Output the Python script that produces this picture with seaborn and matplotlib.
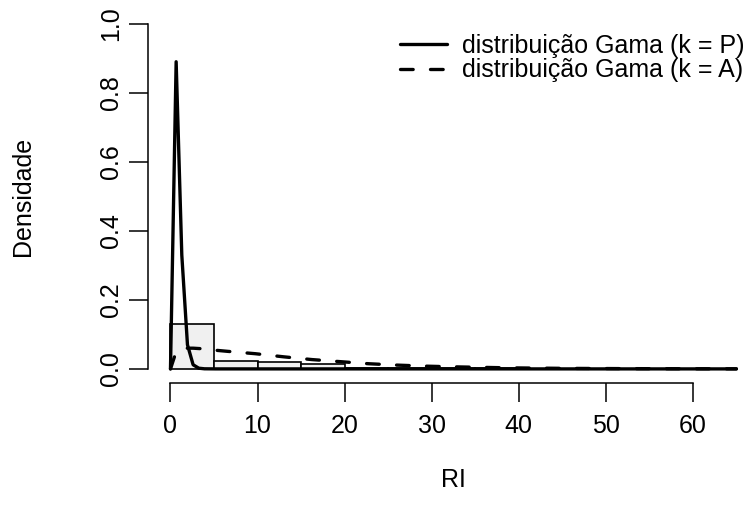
import numpy as np
import pandas as pd
import matplotlib
matplotlib.use("Agg")
import matplotlib.pyplot as plt
from matplotlib.lines import Line2D
import seaborn as sns

# ---- data ----
bin_edges = [0, 5, 10, 15, 20, 25, 30, 35, 40, 45, 50, 55, 60, 65]
bin_heights = [0.1295, 0.024, 0.021, 0.0136, 0.004, 0.003, 0.002, 0.0015,
               0.001, 0.001, 0.0008, 0.0005, 0.0003]

solid_x = [0, 0.65, 1.3, 1.95, 2.6, 3.25, 3.9, 5.2, 65]
solid_y = [0, 0.89, 0.33, 0.07, 0.012, 0.002, 0.0003, 0.0, 0.0]

dashed_x = [0, 0.65, 1.3, 1.95, 2.6, 3.9, 5.2, 6.5, 9.75, 13, 16.25, 19.5,
            22.75, 26, 29.25, 32.5, 39, 45.5, 52, 58.5, 65]
dashed_y = [0, 0.05, 0.058, 0.06, 0.06, 0.058, 0.054, 0.051, 0.044, 0.035,
            0.027, 0.021, 0.015, 0.011, 0.008, 0.006, 0.003, 0.0015, 0.0008,
            0.0004, 0.0002]

legend_labels = ["distribuição Gama (k = P)", "distribuição Gama (k = A)"]
x_ticks = [0, 10, 20, 30, 40, 50, 60]
y_ticks = [0.0, 0.2, 0.4, 0.6, 0.8, 1.0]
x_label = "RI"
y_label = "Densidade"

plt.rcParams['font.family'] = ['Liberation Sans', 'DejaVu Sans']
FS = 18
LW = 2.4
DASH = (0, (3.8, 5.2))

fig = plt.figure(figsize=(7.55, 5.24), dpi=100)
W, H = 755, 524
ax = fig.add_axes([147.5 / W, 1 - 382.7 / H, (759 - 147.5) / W,
                   (382.7 - 10) / H])

centers = [(a + b) / 2 for a, b in zip(bin_edges[:-1], bin_edges[1:])]
hist_df = pd.DataFrame({"x": centers, "w": bin_heights})
sns.histplot(data=hist_df, x="x", weights="w", bins=bin_edges, stat="count",
             color="#F0F0F0", edgecolor="black", linewidth=1.2, alpha=1,
             ax=ax)

sns.lineplot(x=solid_x, y=solid_y, color="black", linewidth=LW, sort=False,
             estimator=None, ax=ax, solid_capstyle="round",
             solid_joinstyle="round")
sns.lineplot(x=dashed_x, y=dashed_y, color="black", linewidth=LW, sort=False,
             estimator=None, ax=ax, linestyle=DASH,
             dash_capstyle="round", dash_joinstyle="round")

ax.set_xlim(-2.64, 67.6)
ax.set_ylim(-0.04, 1.04)

for s in ["top", "right"]:
    ax.spines[s].set_visible(False)
ax.spines["left"].set_bounds(0, 1)
ax.spines["bottom"].set_bounds(0, 60)
for s in ["left", "bottom"]:
    ax.spines[s].set_linewidth(1.1)

ax.set_xticks(x_ticks)
ax.set_xticklabels([str(t) for t in x_ticks], fontsize=FS)
ax.set_yticks(y_ticks)
ax.set_yticklabels([f"{t:.1f}" for t in y_ticks], fontsize=FS, rotation=90,
                   va="center")
ax.tick_params(axis="both", direction="out", length=13.7, width=1.1)
ax.tick_params(axis="x", pad=8.6)
ax.tick_params(axis="y", pad=4)

ax.set_xlabel("")
ax.set_ylabel("")
fig.text(453 / W, 1 - 480 / H, x_label, fontsize=FS, ha="center", va="center")
fig.text(23 / W, 1 - 196 / H, y_label, fontsize=FS, ha="center",
         va="center", rotation=90)

handles = [Line2D([], [], color="black", lw=LW, solid_capstyle="round"),
           Line2D([], [], color="black", lw=LW, linestyle=DASH,
                  dash_capstyle="round")]
fig.legend(handles, legend_labels, loc="upper left",
           bbox_to_anchor=(399.5 / W, 1 - 34 / H), frameon=False, fontsize=FS,
           handlelength=1.9, handletextpad=0.62, labelspacing=0.02,
           borderpad=0, borderaxespad=0)

fig.savefig("out.png", dpi=100)
